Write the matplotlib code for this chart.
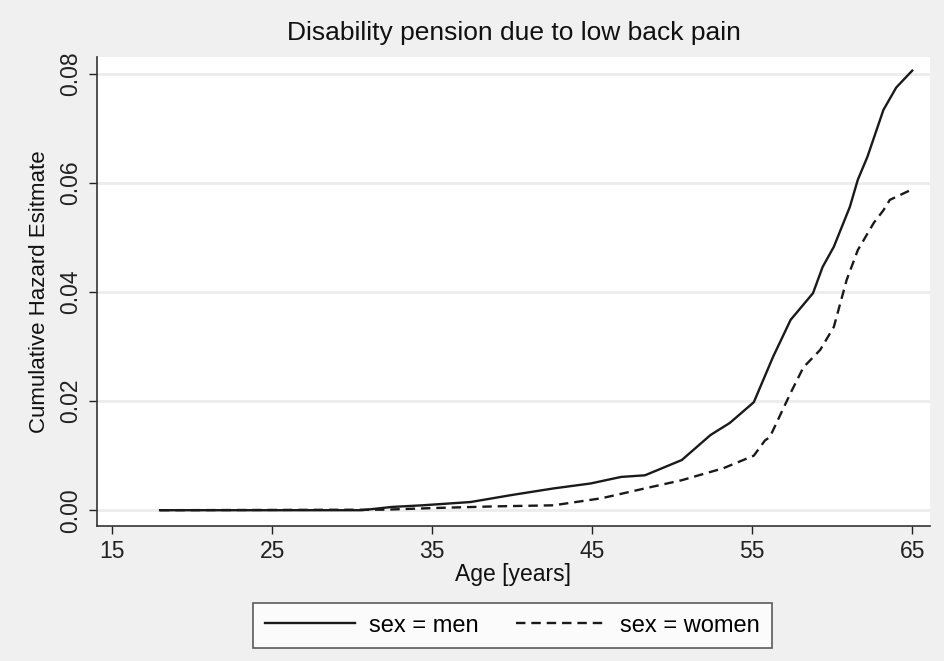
import matplotlib
matplotlib.use("Agg")
import matplotlib.pyplot as plt
from matplotlib.lines import Line2D

plt.rcParams['font.family'] = ['Liberation Sans', 'DejaVu Sans']

men_age = [18, 30.6, 32.5, 34.4, 37.4, 40.0, 42.6, 44.9, 46.8, 48.3, 50.6, 52.4, 53.6,
           55.1, 56.3, 57.4, 58.8, 59.4, 60.1, 61.1, 61.6, 62.2, 63.2, 64.0, 65.0]
men_hazard = [0, 0, 0.0006, 0.0009, 0.0015, 0.0028, 0.0040, 0.0049, 0.0061, 0.0064,
              0.0092, 0.0138, 0.0160, 0.0198, 0.0281, 0.0349, 0.0398, 0.0446, 0.0483,
              0.0556, 0.0606, 0.0648, 0.0734, 0.0775, 0.0806]

women_age = [18, 32.1, 35.1, 38.9, 42.6, 45.6, 48.3, 50.6, 53.2, 55.1, 55.8, 56.1, 57.4,
             58.2, 59.25, 60.1, 60.9, 61.6, 62.6, 63.2, 63.6, 64.9]
women_hazard = [0, 0.0001, 0.0004, 0.0007, 0.0009, 0.0022, 0.0040, 0.0055, 0.0077, 0.0100,
                0.0128, 0.0134, 0.0215, 0.0262, 0.0294, 0.0336, 0.0422, 0.0477, 0.0527,
                0.0550, 0.0569, 0.0587]

x_ticks = [15, 25, 35, 45, 55, 65]
y_ticks = [0.00, 0.02, 0.04, 0.06, 0.08]
y_tick_labels = ["0.00", "0.02", "0.04", "0.06", "0.08"]

title = "Disability pension due to low back pain"
x_label = "Age [years]"
y_label = "Cumulative Hazard Esitmate"
series_labels = ["sex = men", "sex = women"]

bg = "#f0f0f0"
fig = plt.figure(figsize=(9.44, 6.61), dpi=100, facecolor=bg)
ax = fig.add_axes([0.1028, 0.2042, 0.8822, 0.7096])
ax.set_facecolor("white")

ax.plot(men_age, men_hazard, color="#1a1a1a", lw=1.7, solid_joinstyle="round")
ax.plot(women_age, women_hazard, color="#1a1a1a", lw=1.7, linestyle=(0, (4, 2.5)))

ax.set_xlim(14.06, 66.1)
ax.set_ylim(-0.0029, 0.0831)
ax.set_xticks(x_ticks)
ax.set_yticks(y_ticks)
ax.set_yticklabels(y_tick_labels, rotation=90, va="center")
ax.tick_params(axis="both", labelsize=16.5, colors="#222222", length=6, width=1)
ax.tick_params(axis="x", pad=4)
ax.tick_params(axis="y", pad=5)

for y in y_ticks:
    ax.axhline(y, color="#ececec", lw=2, zorder=0)

for s in ["top", "right"]:
    ax.spines[s].set_visible(False)
for s in ["left", "bottom"]:
    ax.spines[s].set_color("#333333")
    ax.spines[s].set_linewidth(1.2)

ax.set_title(title, fontsize=19, pad=12, color="#111111")
ax.set_xlabel(x_label, fontsize=16.5, labelpad=0, color="#111111")
ax.set_ylabel(y_label, fontsize=16, labelpad=6, color="#111111")

handles = [Line2D([0], [0], color="#1a1a1a", lw=1.7),
           Line2D([0], [0], color="#1a1a1a", lw=1.7, linestyle=(0, (4, 2.5)))]
leg = fig.legend(handles, series_labels, loc="center", bbox_to_anchor=(0.543, 0.0537),
                 ncol=2, fontsize=17, frameon=True, fancybox=False, handlelength=3.8,
                 columnspacing=1.6, handletextpad=0.6, borderpad=0.5)
leg.get_frame().set_edgecolor("#333333")
leg.get_frame().set_linewidth(1.2)
leg.get_frame().set_facecolor("white")

fig.savefig("out.png", dpi=100, facecolor=bg)
